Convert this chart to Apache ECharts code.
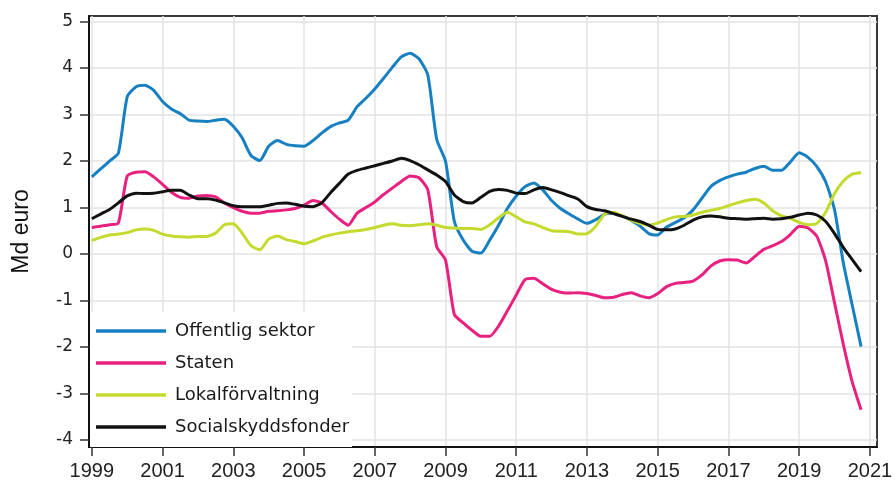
<!DOCTYPE html>
<html>
<head>
<meta charset="utf-8">
<script src="https://cdn.jsdelivr.net/npm/echarts@6/dist/echarts.min.js"></script>
<style>
html,body{margin:0;padding:0;background:#fff;}
#chart{width:896px;height:490px;}
</style>
</head>
<body>
<div id="chart"></div>
<script>
// Quarterly data 1999Q1 - 2020Q4
const startYear = 1999;
const seriesNames = ['Offentlig sektor', 'Staten', 'Lokalförvaltning', 'Socialskyddsfonder'];
const xTickYears = [1999, 2001, 2003, 2005, 2007, 2009, 2011, 2013, 2015, 2017, 2019, 2021];
const yTickValues = [-4, -3, -2, -1, 0, 1, 2, 3, 4, 5];

const offentligSektor = [
  1.66, 1.83, 2.00, 2.17,
  3.38, 3.60, 3.63, 3.52,
  3.28, 3.12, 3.02, 2.88,
  2.86, 2.85, 2.88, 2.90,
  2.75, 2.50, 2.12, 2.01,
  2.32, 2.44, 2.36, 2.33,
  2.32, 2.44, 2.60, 2.74,
  2.82, 2.88, 3.17, 3.35,
  3.55, 3.78, 4.02, 4.24,
  4.32, 4.20, 3.85, 2.47,
  2.00, 0.70, 0.30, 0.06,
  0.02, 0.30, 0.62, 0.98,
  1.25, 1.45, 1.53, 1.38,
  1.15, 0.98, 0.86, 0.75,
  0.66, 0.74, 0.86, 0.88,
  0.82, 0.72, 0.60, 0.44,
  0.41, 0.58, 0.68, 0.78,
  0.95, 1.20, 1.45, 1.58,
  1.66, 1.72, 1.76, 1.84,
  1.89, 1.80, 1.80, 1.98,
  2.18, 2.08, 1.88, 1.55,
  0.95, -0.20, -1.10, -1.99
];
const staten = [
  0.57, 0.60, 0.63, 0.67,
  1.68, 1.76, 1.77, 1.66,
  1.50, 1.33, 1.22, 1.20,
  1.25, 1.26, 1.23, 1.10,
  1.00, 0.92, 0.88, 0.88,
  0.92, 0.93, 0.95, 0.98,
  1.05, 1.15, 1.10, 0.92,
  0.75, 0.62, 0.88, 1.00,
  1.12, 1.28, 1.42, 1.56,
  1.68, 1.64, 1.38, 0.16,
  -0.13, -1.30, -1.48, -1.64,
  -1.77, -1.77, -1.55, -1.22,
  -0.88, -0.55, -0.52, -0.64,
  -0.76, -0.82, -0.84, -0.83,
  -0.85, -0.89, -0.94, -0.93,
  -0.87, -0.83, -0.90, -0.94,
  -0.85, -0.70, -0.63, -0.61,
  -0.58, -0.45, -0.26, -0.15,
  -0.12, -0.13, -0.19, -0.05,
  0.10, 0.18, 0.27, 0.42,
  0.60, 0.56, 0.38, -0.15,
  -1.05, -1.95, -2.75, -3.35
];
const lokalforvaltning = [
  0.29, 0.36, 0.41, 0.43,
  0.46, 0.52, 0.54, 0.51,
  0.43, 0.39, 0.37, 0.36,
  0.38, 0.38, 0.45, 0.63,
  0.65, 0.45, 0.18, 0.09,
  0.32, 0.39, 0.31, 0.27,
  0.22, 0.28, 0.36, 0.41,
  0.45, 0.48, 0.50, 0.53,
  0.57, 0.62, 0.65, 0.62,
  0.61, 0.63, 0.65, 0.62,
  0.57, 0.56, 0.55, 0.55,
  0.53, 0.63, 0.78, 0.90,
  0.80, 0.69, 0.65, 0.57,
  0.50, 0.49, 0.48, 0.43,
  0.44, 0.60, 0.86, 0.90,
  0.82, 0.73, 0.66, 0.62,
  0.67, 0.74, 0.80, 0.81,
  0.84, 0.90, 0.94, 0.98,
  1.04, 1.10, 1.15, 1.18,
  1.10, 0.93, 0.82, 0.77,
  0.68, 0.63, 0.66, 0.90,
  1.30, 1.57, 1.72, 1.75
];
const socialskyddsfonder = [
  0.76, 0.86, 0.96, 1.10,
  1.25, 1.31, 1.30, 1.31,
  1.34, 1.37, 1.37, 1.27,
  1.19, 1.19, 1.16, 1.10,
  1.04, 1.02, 1.02, 1.02,
  1.05, 1.09, 1.10, 1.07,
  1.03, 1.02, 1.10, 1.32,
  1.52, 1.72, 1.80, 1.85,
  1.90, 1.95, 2.00, 2.06,
  2.01, 1.92, 1.81, 1.70,
  1.56, 1.27, 1.13, 1.10,
  1.22, 1.35, 1.39, 1.37,
  1.31, 1.30, 1.38, 1.43,
  1.38, 1.32, 1.25, 1.18,
  1.02, 0.96, 0.93, 0.87,
  0.81, 0.75, 0.70, 0.62,
  0.53, 0.52, 0.54, 0.62,
  0.73, 0.80, 0.82, 0.80,
  0.77, 0.76, 0.75, 0.76,
  0.77, 0.75, 0.76, 0.79,
  0.84, 0.88, 0.84, 0.70,
  0.44, 0.14, -0.12, -0.38
];

const colors = ['#1680c2', '#e8207f', '#c5da2e', '#111111'];
const allValues = [offentligSektor, staten, lokalforvaltning, socialskyddsfonder];

function toPairs(values) {
  return values.map((v, i) => [startYear + i / 4, v]);
}

const chart = echarts.init(document.getElementById('chart'), null, {renderer: 'canvas'});
chart.setOption({
  animation: false,
  backgroundColor: '#ffffff',
  grid: {
    left: 89, right: 19, top: 16, bottom: 43,
    show: true, borderColor: '#3a3a3a', borderWidth: 2, backgroundColor: 'transparent'
  },
  legend: {
    orient: 'vertical',
    left: 90, top: 312,
    padding: [10, 3, 11, 6],
    itemGap: 14,
    itemWidth: 70,
    itemHeight: 14,
    icon: 'path://M0,0H70V3.4H0Z',
    backgroundColor: '#ffffff',
    textStyle: {fontFamily: 'DejaVu Sans', fontSize: 18, color: '#1a1a1a', padding: [0, 0, 0, 4]},
    data: seriesNames
  },
  xAxis: {
    type: 'value',
    min: 1998.92, max: 2021.2,
    axisLine: {show: true, onZero: false, lineStyle: {color: '#111', width: 2}},
    axisTick: {show: true, length: 9, customValues: xTickYears, lineStyle: {color: '#333', width: 1.5}},
    axisLabel: {customValues: xTickYears, margin: 14, fontFamily: 'Liberation Sans', fontSize: 20, color: '#222',
      formatter: v => String(v)},
    splitLine: {show: true, lineStyle: {color: '#e3e3e3', width: 1.5}}
  },
  yAxis: {
    type: 'value',
    min: -4.15, max: 5.12,
    name: 'Md euro',
    nameLocation: 'middle',
    nameGap: 56,
    nameTextStyle: {fontFamily: 'Liberation Sans', fontSize: 23, color: '#111'},
    axisLine: {show: true, lineStyle: {color: '#111', width: 2}},
    axisTick: {show: true, length: 9, customValues: yTickValues, lineStyle: {color: '#333', width: 1.5}},
    axisLabel: {customValues: yTickValues, margin: 16, fontFamily: 'DejaVu Sans', fontSize: 17, color: '#222'},
    splitLine: {show: true, lineStyle: {color: '#e3e3e3', width: 1.5}}
  },
  series: seriesNames.map((name, k) => ({
    name: name,
    type: 'line',
    data: toPairs(allValues[k]),
    symbol: 'none',
    showSymbol: false,
    smooth: 0.2,
    lineStyle: {color: colors[k], width: 3},
    itemStyle: {color: colors[k]},
    z: 2 + k
  }))
});
</script>
</body>
</html>
